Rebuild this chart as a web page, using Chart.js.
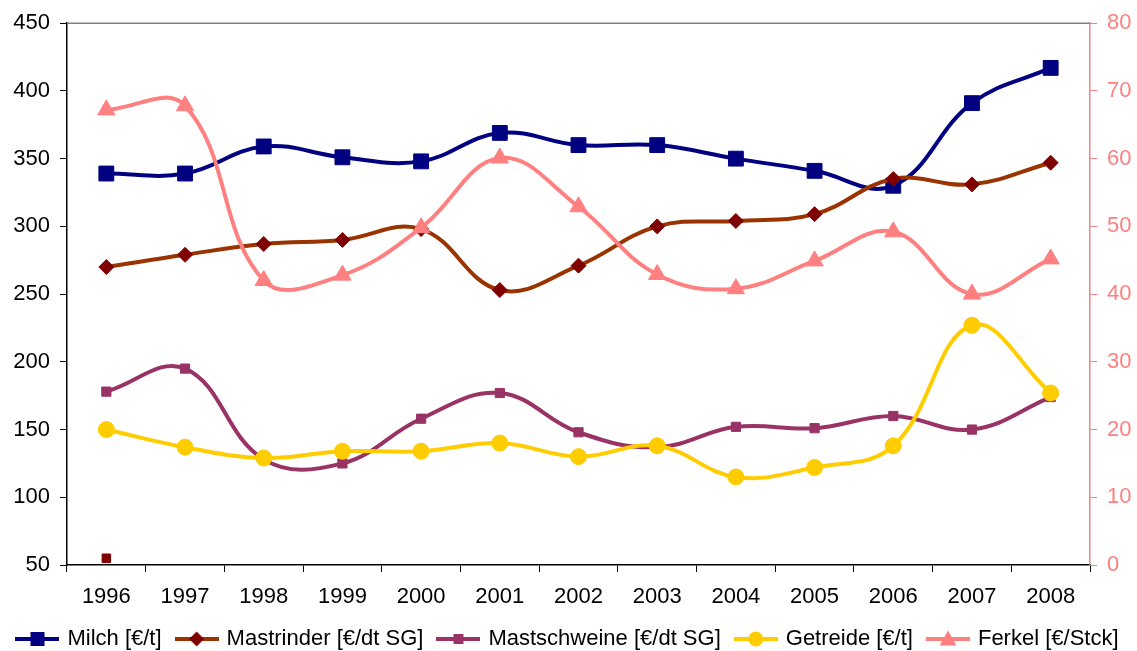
<!DOCTYPE html>
<html>
<head>
<meta charset="utf-8">
<script src="https://cdn.jsdelivr.net/npm/chart.js@4.4.1/dist/chart.umd.min.js"></script>
<style>
  html, body { margin: 0; padding: 0; background: #fff; }
</style>
</head>
<body>
<canvas id="chart_prices" width="1137" height="651"></canvas>
<script>
const years = ["1996", "1997", "1998", "1999", "2000", "2001", "2002", "2003", "2004", "2005", "2006", "2007", "2008"];

// left axis series
const milch = [339, 339, 359, 351, 348, 369, 360, 360, 350, 341, 330, 391, 417];
const mastrinder = [270, 279, 287, 290, 298, 253, 271, 300, 304, 309, 335, 331, 347];
const mastschweine = [178, 195, 128, 125, 158, 177, 148, 137, 152, 151, 160, 150, 174];
const getreide = [150, 137, 129, 134, 134, 140, 130, 138, 115, 122, 138, 227, 177];
// right axis series
const ferkel = [67.2, 67.8, 42.0, 42.8, 49.8, 60.1, 52.9, 42.9, 40.8, 44.9, 49.2, 40.0, 45.2];
// lone marker at the bottom of 1996
const einzelwert = [55, null, null, null, null, null, null, null, null, null, null, null, null];

const leftTicks = { min: 50, max: 450, step: 50 };
const rightTicks = { min: 0, max: 80, step: 10 };

const fontFamily = "'Liberation Sans', Arial, sans-serif";
const fontSize = 22;

// little line + marker pictures for the legend
function legendIcon(lineColor, markerColor, shape, size) {
  const c = document.createElement("canvas");
  c.width = 44;
  c.height = 20;
  const g = c.getContext("2d");
  g.strokeStyle = lineColor;
  g.lineWidth = 4;
  g.beginPath();
  g.moveTo(0, 10);
  g.lineTo(44, 10);
  g.stroke();
  g.fillStyle = markerColor;
  g.beginPath();
  if (shape === "rect") {
    g.rect(22 - size / 2, 10 - size / 2, size, size);
  } else if (shape === "rectRot") {
    g.moveTo(22, 10 - size / 2);
    g.lineTo(22 + size / 2, 10);
    g.lineTo(22, 10 + size / 2);
    g.lineTo(22 - size / 2, 10);
    g.closePath();
  } else if (shape === "circle") {
    g.arc(22, 10, size / 2, 0, Math.PI * 2);
  } else if (shape === "triangle") {
    g.moveTo(22, 10 - size / 2);
    g.lineTo(22 + size / 2, 10 + size / 2 - 2);
    g.lineTo(22 - size / 2, 10 + size / 2 - 2);
    g.closePath();
  }
  g.fill();
  return c;
}

const legendIcons = [
  legendIcon("#000080", "#000080", "rect", 14),
  legendIcon("#993300", "#800000", "rectRot", 15),
  legendIcon("#993366", "#993366", "rect", 10),
  legendIcon("#FFCC00", "#FFCC00", "circle", 15),
  legendIcon("#FF8080", "#FF8080", "triangle", 17),
];

const topBorder = {
  id: "topBorder",
  beforeDatasetsDraw(chart) {
    const { ctx, chartArea } = chart;
    ctx.save();
    ctx.strokeStyle = "#808080";
    ctx.lineWidth = 1.5;
    ctx.beginPath();
    ctx.moveTo(chartArea.left, chartArea.top);
    ctx.lineTo(chartArea.right, chartArea.top);
    ctx.stroke();
    ctx.restore();
  },
};

function series(label, data, lineColor, markerColor, shape, radius, axis, order) {
  return {
    label: label,
    data: data,
    yAxisID: axis,
    borderColor: lineColor,
    borderWidth: 4,
    backgroundColor: markerColor,
    pointStyle: shape,
    pointRadius: radius,
    pointHoverRadius: radius,
    pointBackgroundColor: markerColor,
    pointBorderColor: markerColor,
    pointBorderWidth: 1,
    tension: 0.4,
    fill: false,
    order: order,
  };
}

const ctx = document.getElementById("chart_prices").getContext("2d");
const chartPrices = new Chart(ctx, {
  type: "line",
  data: {
    labels: years,
    datasets: [
      series("Milch [€/t]", milch, "#000080", "#000080", "rect", 10.5, "y", 5),
      series("Mastrinder [€/dt SG]", mastrinder, "#993300", "#800000", "rectRot", 7.5, "y", 4),
      series("Mastschweine [€/dt SG]", mastschweine, "#993366", "#993366", "rect", 6.5, "y", 3),
      series("Getreide [€/t]", getreide, "#FFCC00", "#FFCC00", "circle", 8, "y", 2),
      series("Ferkel [€/Stck]", ferkel, "#FF8080", "#FF8080", "triangle", 10, "y1", 1),
      series("", einzelwert, "#800000", "#800000", "rect", 6, "y", 0),
    ],
  },
  options: {
    responsive: false,
    animation: false,
    layout: {
      padding: { top: 22, right: 0, bottom: -9, left: 0 },
    },
    scales: {
      x: {
        offset: true,
        grid: {
          offset: true,
          drawOnChartArea: false,
          color: "#000000",
          tickLength: 7,
        },
        border: { color: "#000000", width: 1.5 },
        ticks: {
          color: "#000000",
          padding: 12,
          maxRotation: 0,
          font: { family: fontFamily, size: fontSize },
        },
        afterFit: (scale) => {
          scale.height = 47;
        },
      },
      y: {
        position: "left",
        min: leftTicks.min,
        max: leftTicks.max,
        grid: {
          drawOnChartArea: false,
          color: "#000000",
          tickLength: 7,
        },
        border: { color: "#000000", width: 1.5 },
        ticks: {
          stepSize: leftTicks.step,
          color: "#000000",
          padding: 10,
          font: { family: fontFamily, size: fontSize },
        },
        afterFit: (scale) => {
          scale.width = 67;
        },
      },
      y1: {
        position: "right",
        min: rightTicks.min,
        max: rightTicks.max,
        grid: {
          drawOnChartArea: false,
          color: "#F08080",
          tickLength: 7,
        },
        border: { color: "#F08080", width: 1.5 },
        ticks: {
          stepSize: rightTicks.step,
          color: "#FF8080",
          padding: 10,
          font: { family: fontFamily, size: fontSize },
        },
        afterFit: (scale) => {
          scale.width = 47;
        },
      },
    },
    plugins: {
      legend: {
        position: "bottom",
        labels: {
          usePointStyle: true,
          pointStyleWidth: 38,
          padding: 16,
          color: "#000000",
          font: { family: fontFamily, size: fontSize },
          filter: (item) => item.datasetIndex < 5,
          sort: (a, b) => a.datasetIndex - b.datasetIndex,
          generateLabels: (chart) => {
            const items = Chart.defaults.plugins.legend.labels.generateLabels(chart);
            items.forEach((item) => {
              if (item.datasetIndex < 5) {
                item.pointStyle = legendIcons[item.datasetIndex];
              }
            });
            return items;
          },
        },
      },
      tooltip: { enabled: false },
    },
  },
  plugins: [topBorder],
});
</script>
</body>
</html>
